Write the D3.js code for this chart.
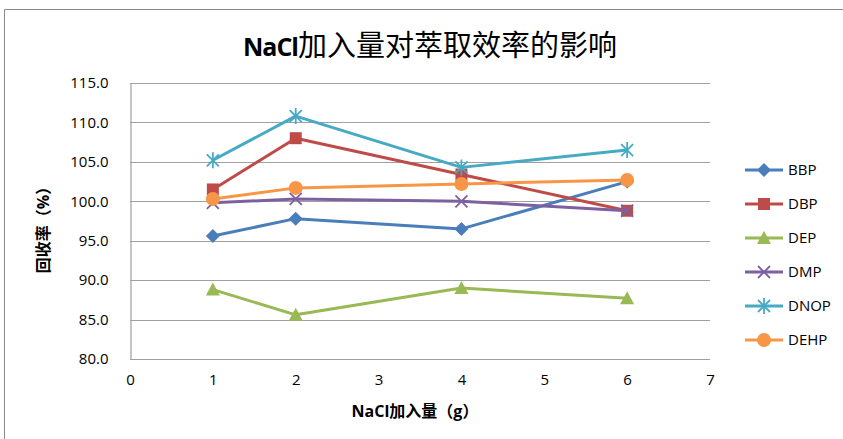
<!DOCTYPE html>
<html>
<head>
<meta charset="utf-8">
<script src="https://cdn.jsdelivr.net/npm/d3@7"></script>
<style>
  html, body { margin: 0; padding: 0; background: #fff; }
  svg { display: block; }
  text { font-family: "Open Sans", "Noto Sans CJK SC", sans-serif; fill: #000; }
</style>
</head>
<body>
<svg id="chart" width="843" height="439"></svg>
<script>
// NaCl amount (g) on the x axis
const xValues = [1, 2, 4, 6];

// Recovery (%) for each phthalate
const seriesNames = ["BBP", "DBP", "DEP", "DMP", "DNOP", "DEHP"];
const bbp  = [95.6, 97.8, 96.5, 102.5];
const dbp  = [101.5, 108.0, 103.4, 98.8];
const dep  = [88.8, 85.6, 89.0, 87.7];
const dmp  = [99.8, 100.3, 100.0, 98.8];
const dnop = [105.2, 110.8, 104.3, 106.5];
const dehp = [100.3, 101.7, 102.2, 102.7];

const xTicks = [0, 1, 2, 3, 4, 5, 6, 7];
const yTicks = [80, 85, 90, 95, 100, 105, 110, 115];

const titleLatin = "NaCl";
const titleRest = "加入量对萃取效率的影响";
const xTitle = "NaCl加入量（g）";
const yTitle = "回收率（%）";

const seriesValues = [bbp, dbp, dep, dmp, dnop, dehp];
const colors = ["#4A7EBB", "#BE4B48", "#98B954", "#7D60A0", "#46AAC5", "#F79646"];
const markerTypes = ["diamond", "square", "triangle", "cross", "star", "circle"];

const svg = d3.select("#chart");

// chart frame
svg.append("path")
  .attr("d", "M4.5,460 V9.5 H900")
  .attr("fill", "none")
  .attr("stroke", "#8a8a8a")
  .attr("stroke-width", 1);

const plot = { left: 130, right: 710, top: 83, bottom: 359 };

const x = d3.scaleLinear().domain([0, 7]).range([plot.left, plot.right]);
const y = d3.scaleLinear().domain([80, 115]).range([plot.bottom, plot.top]);

// horizontal gridlines
svg.append("g")
  .selectAll("line")
  .data(yTicks)
  .join("line")
  .attr("x1", plot.left)
  .attr("x2", plot.right)
  .attr("y1", d => Math.round(y(d)) + 0.5)
  .attr("y2", d => Math.round(y(d)) + 0.5)
  .attr("stroke", "#a0a0a0")
  .attr("stroke-width", 1.2);

// y axis
const yAxis = svg.append("g")
  .attr("transform", `translate(${plot.left + 0.5},0)`)
  .call(d3.axisLeft(y).tickValues(yTicks).tickFormat(d3.format(".1f")).tickSize(0).tickPadding(22));
yAxis.select(".domain").attr("stroke", "#a0a0a0").attr("stroke-width", 1.2);
yAxis.selectAll("text")
  .attr("font-size", 15)
  .attr("font-family", "'Open Sans', sans-serif")
  .attr("fill", "#222");

// x axis labels
const xAxis = svg.append("g")
  .attr("transform", `translate(0,${plot.bottom})`)
  .call(d3.axisBottom(x).tickValues(xTicks).tickFormat(d3.format("d")).tickSize(0).tickPadding(15));
xAxis.select(".domain").remove();
xAxis.selectAll("text")
  .attr("font-size", 15)
  .attr("font-family", "'Open Sans', sans-serif")
  .attr("fill", "#222");

// title
const title = svg.append("text")
  .attr("x", 430)
  .attr("y", 56)
  .attr("text-anchor", "middle");
title.append("tspan")
  .attr("font-family", "'Open Sans', sans-serif")
  .attr("font-weight", "bold")
  .attr("font-size", 25)
  .attr("letter-spacing", -1)
  .text(titleLatin);
title.append("tspan")
  .attr("font-family", "'Noto Sans CJK SC', sans-serif")
  .attr("font-size", 29)
  .text(titleRest);

// axis titles
svg.append("text")
  .attr("x", 415)
  .attr("y", 417)
  .attr("text-anchor", "middle")
  .attr("font-size", 16)
  .attr("font-weight", "bold")
  .attr("font-family", "'Noto Sans CJK SC', sans-serif")
  .text(xTitle);

svg.append("text")
  .attr("transform", "translate(49,226) rotate(-90)")
  .attr("text-anchor", "middle")
  .attr("font-size", 16)
  .attr("font-weight", "bold")
  .attr("font-family", "'Noto Sans CJK SC', sans-serif")
  .text(yTitle);

// marker drawing
function drawMarker(g, type, color) {
  switch (type) {
    case "diamond":
      g.append("path").attr("d", "M0,-7 L7,0 L0,7 L-7,0 Z").attr("fill", color);
      break;
    case "square":
      g.append("rect").attr("x", -6).attr("y", -6).attr("width", 12).attr("height", 12).attr("fill", color);
      break;
    case "triangle":
      g.append("path").attr("d", "M0,-7 L7,6 L-7,6 Z").attr("fill", color);
      break;
    case "cross":
      g.append("path").attr("d", "M-6,-6 L6,6 M-6,6 L6,-6")
        .attr("stroke", color).attr("stroke-width", 1.8).attr("fill", "none");
      break;
    case "star":
      g.append("path").attr("d", "M-6,-6 L6,6 M-6,6 L6,-6 M0,-8 L0,8")
        .attr("stroke", color).attr("stroke-width", 1.8).attr("fill", "none");
      break;
    case "circle":
      g.append("circle").attr("r", 7).attr("fill", color);
      break;
  }
}

const line = d3.line()
  .x((d, i) => x(xValues[i]))
  .y(d => y(d));

seriesValues.forEach((vals, si) => {
  const g = svg.append("g");
  g.append("path")
    .attr("d", line(vals))
    .attr("fill", "none")
    .attr("stroke", colors[si])
    .attr("stroke-width", 3)
    .attr("stroke-linejoin", "round");
  vals.forEach((v, i) => {
    const m = g.append("g").attr("transform", `translate(${x(xValues[i])},${y(v)})`);
    drawMarker(m, markerTypes[si], colors[si]);
  });
});

// legend
const legendTop = 170;
const legendStep = 34;
const legend = svg.append("g");
seriesNames.forEach((name, i) => {
  const ly = legendTop + i * legendStep;
  const item = legend.append("g").attr("transform", `translate(0,${ly})`);
  item.append("line")
    .attr("x1", 745).attr("x2", 783)
    .attr("y1", 0).attr("y2", 0)
    .attr("stroke", colors[i]).attr("stroke-width", 3);
  const m = item.append("g").attr("transform", "translate(764,0)");
  drawMarker(m, markerTypes[i], colors[i]);
  item.append("text")
    .attr("x", 788)
    .attr("y", 0)
    .attr("dy", "0.35em")
    .attr("font-size", 15)
    .attr("font-family", "'Open Sans', sans-serif")
    .attr("fill", "#222")
    .text(name);
});
</script>
</body>
</html>
